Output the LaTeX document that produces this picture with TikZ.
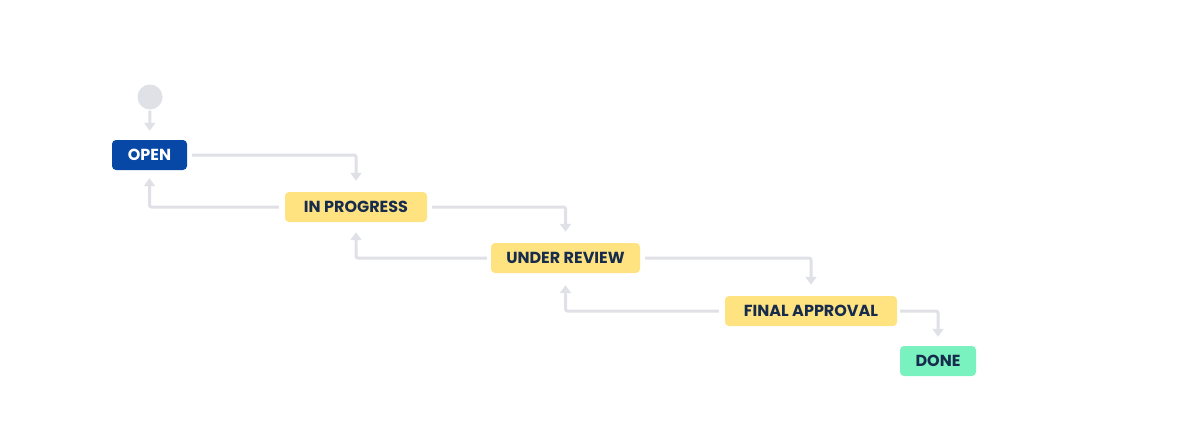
\documentclass[tikz,border=0pt]{standalone}
\usepackage{fontspec}
\setmainfont{Poppins}
\usetikzlibrary{arrows.meta}
\definecolor{jblue}{HTML}{0747A6}
\definecolor{jyellow}{HTML}{FFE380}
\definecolor{jgreen}{HTML}{79F2C0}
\definecolor{jnavy}{HTML}{172B4D}
\definecolor{jgray}{HTML}{DFE1E6}
\tikzset{
  status/.style={rounded corners=4pt, minimum height=30pt, inner sep=0pt,
    font=\fontsize{16}{18}\selectfont\bfseries, text=jnavy},
  conn/.style={draw=jgray, line width=3pt, rounded corners=2pt,
    -{Triangle[width=11pt,length=8pt]}},
}
\begin{document}
\begin{tikzpicture}[x=1pt,y=-1pt]
\useasboundingbox (0,0) rectangle (1181,442);
\node[circle, fill=jgray, minimum size=25pt, inner sep=0pt] (start) at (150,97) {};
\node[status, fill=jblue, text=white, minimum width=75pt] (open) at (149.5,155) {OPEN};
\node[status, fill=jyellow, minimum width=142pt] (inprog) at (356,207) {IN PROGRESS};
\node[status, fill=jyellow, minimum width=149pt] (review) at (565.5,258) {UNDER REVIEW};
\node[status, fill=jyellow, minimum width=172pt] (final) at (811,311) {FINAL APPROVAL};
\node[status, fill=jgreen, minimum width=76pt] (done) at (938,361) {DONE};

\draw[conn, shorten <=1pt, shorten >=9pt] (start) -- (open);

\draw[conn, shorten <=5pt, shorten >=11pt] (open.east) -| (inprog.north);
\draw[conn, shorten <=5pt, shorten >=11pt] (inprog.east) -| (review.north);
\draw[conn, shorten <=5pt, shorten >=11pt] (review.east) -| (final.north);
\draw[conn, shorten <=3pt, shorten >=9pt] (final.east) -| (done.north);

\draw[conn, shorten <=6pt, shorten >=8pt] (inprog.west) -| (open.south);
\draw[conn, shorten <=4pt, shorten >=10pt] (review.west) -| (inprog.south);
\draw[conn, shorten <=6pt, shorten >=12pt] (final.west) -| (review.south);
\end{tikzpicture}
\end{document}
